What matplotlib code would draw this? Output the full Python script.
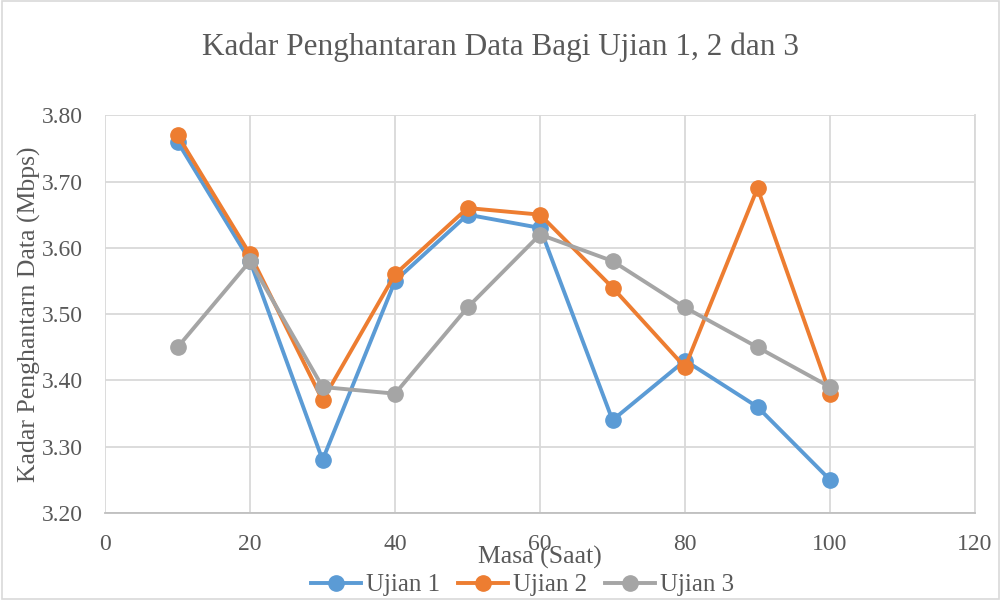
import numpy as np
import matplotlib.pyplot as plt
from matplotlib.ticker import FormatStrFormatter

plt.rcParams['font.family'] = 'serif'
plt.rcParams['font.serif'] = ['Liberation Serif']

masa = [10, 20, 30, 40, 50, 60, 70, 80, 90, 100]
ujian1 = [3.76, 3.58, 3.28, 3.55, 3.65, 3.63, 3.34, 3.43, 3.36, 3.25]
ujian2 = [3.77, 3.59, 3.37, 3.56, 3.66, 3.65, 3.54, 3.42, 3.69, 3.38]
ujian3 = [3.45, 3.58, 3.39, 3.38, 3.51, 3.62, 3.58, 3.51, 3.45, 3.39]

colors = ['#5b9bd5', '#ed7d31', '#a5a5a5']
text_col = '#595959'

fig = plt.figure(figsize=(10.01, 6.0), dpi=100)
ax = fig.add_axes([0.105, 0.145, 0.869, 0.663])

for y, c, lab in zip([ujian1, ujian2, ujian3], colors, ['Ujian 1', 'Ujian 2', 'Ujian 3']):
    ax.plot(masa, y, color=c, lw=2.8, marker='o', ms=11, label=lab)

ax.set_xlim(0, 120)
ax.set_ylim(3.20, 3.80)
ax.set_xticks(np.arange(0, 121, 20))
ax.set_yticks(np.arange(3.20, 3.81, 0.10))
ax.yaxis.set_major_formatter(FormatStrFormatter('%.2f'))
ax.grid(True, color='#d9d9d9', lw=1.3)
ax.set_axisbelow(True)
for s in ['top', 'left']:
    ax.spines[s].set_visible(False)
ax.spines['right'].set_color('#d9d9d9')
ax.spines['right'].set_linewidth(1.3)
ax.spines['bottom'].set_color('#bfbfbf')
ax.spines['bottom'].set_linewidth(1.3)
ax.tick_params(length=0, labelsize=17, labelcolor=text_col)
ax.tick_params(axis='x', pad=15)
ax.tick_params(axis='y', pad=16)

fig.text(0.5, 0.922, 'Kadar Penghantaran Data Bagi Ujian 1, 2 dan 3', fontsize=22.5,
         color=text_col, ha='center', va='center')
ax.set_xlabel('Masa (Saat)', fontsize=18.5, color=text_col)
ax.xaxis.set_label_coords(0.5, -0.083)
ax.set_ylabel('Kadar Penghantarn Data (Mbps)', fontsize=18.5, color=text_col)
ax.yaxis.set_label_coords(-0.074, 0.5)

fig.legend(loc='center', bbox_to_anchor=(0.522, 0.025), ncol=3, frameon=False,
           fontsize=18, labelcolor=text_col, handlelength=2.0, columnspacing=0.7,
           handletextpad=0.2, borderpad=0, borderaxespad=0)

fig.patches.append(plt.Rectangle((0.002, 0.002), 0.996, 0.996, transform=fig.transFigure,
                                 fill=False, edgecolor='#d9d9d9', lw=1.2))

fig.savefig('out.png', dpi=100)
